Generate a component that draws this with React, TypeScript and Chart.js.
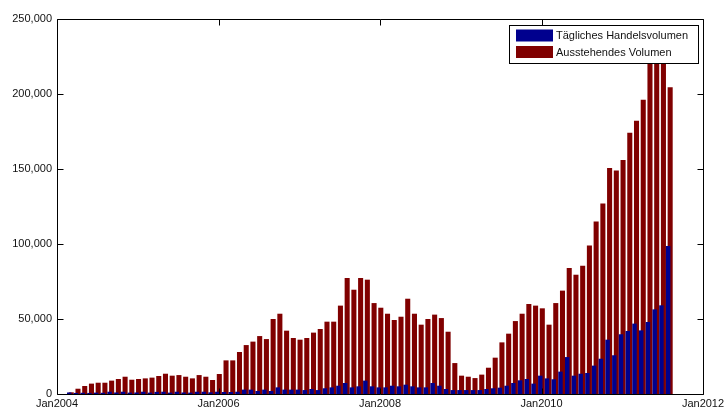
import React, { useEffect, useRef } from "react";
import { Chart, registerables } from "chart.js";

Chart.register(...registerables);

// Monthly (month-end) observations starting Feb 2004
const FIRST_YEAR = 2004;
const FIRST_MONTH = 2;

const seriesLabels = ["Tägliches Handelsvolumen", "Ausstehendes Volumen"];
const seriesColors = ["#00008E", "#800000"];

const xTickValues = [0, 24, 48, 72, 96]; // months since Jan 2004
const xTickLabels = ["Jan2004", "Jan2006", "Jan2008", "Jan2010", "Jan2012"];
const yTickValues = [0, 50000, 100000, 150000, 200000, 250000];

const dailyVolume = [
  // 2004 (Feb-Dec)
  800, 500, 600, 500, 700, 600, 1300, 800, 1300, 700, 800,
  // 2005
  1300, 700, 1200, 1300, 700, 1300, 800, 700, 1300, 1300, 900, 1300,
  // 2006
  1100, 1100, 1300, 2700, 2700, 1800, 2700, 1800, 4200, 2700, 2700, 2700,
  // 2007
  2400, 3100, 2400, 3600, 4200, 5300, 7100, 4200, 4900, 8700, 4900, 4200,
  // 2008
  4200, 5300, 4900, 6000, 4900, 4200, 4200, 7100, 5300, 3100, 2400, 2400,
  // 2009
  2400, 2400, 2400, 3100, 3600, 4000, 5300, 7100, 8900, 9800, 6700, 12000,
  // 2010
  10200, 9600, 14700, 24400, 12000, 13300, 13800, 18700, 23300, 36000, 25600, 39600,
  // 2011 (Jan-Jul)
  41800, 46700, 42200, 47800, 56200, 58900, 98400,
];

const outstandingVolume = [
  // 2004 (Feb-Dec)
  900, 3300, 5100, 6700, 7300, 7300, 8700, 9800, 11300, 9300, 9800,
  // 2005
  10200, 10700, 11800, 13300, 12000, 12400, 11300, 10200, 12400, 11300, 9100, 13100,
  // 2006
  22200, 22200, 27800, 32400, 34700, 38400, 36400, 49800, 53300, 42000, 37100, 36000,
  // 2007
  37100, 40700, 43100, 48000, 48000, 58700, 77100, 69300, 77100, 76000, 60400, 57300,
  // 2008
  53300, 49100, 51300, 63300, 53300, 46000, 49800, 52700, 50400, 41300, 20400, 12000,
  // 2009
  11300, 10400, 12700, 17300, 24000, 34200, 40000, 48400, 53300, 59800, 58700, 56900,
  // 2010
  46000, 60400, 68700, 83800, 79300, 85300, 98700, 114700, 126700, 150400, 148700, 155800,
  // 2011 (Jan-Jul)
  174000, 182000, 196000, 228000, 238000, 232000, 204200,
];

const months: string[] = dailyVolume.map((_, i) => {
  const m = FIRST_MONTH - 1 + i;
  const y = FIRST_YEAR + Math.floor(m / 12);
  return `${y}-${String((m % 12) + 1).padStart(2, "0")}`;
});

// month-end position in months since Jan 2004
const monthX = (label: string) => {
  const [y, mo] = label.split("-").map(Number);
  return (y - FIRST_YEAR) * 12 + mo - 0.03;
};

const FONT = { family: "'Liberation Sans', Arial, sans-serif", size: 11 };
const TEXT_COLOR = "#111";

const framePlugin = {
  id: "matlabFrame",
  afterDraw(chart: any) {
    const ctx = chart.ctx;
    const { left, right, top, bottom } = chart.chartArea;
    const xs = chart.scales.x;
    const ys = chart.scales.y;
    const tl = 6;
    ctx.save();
    ctx.strokeStyle = "#000";
    ctx.lineWidth = 1;
    ctx.beginPath();
    const L = Math.round(left) + 0.5;
    const R = Math.round(right) + 0.5;
    const T = Math.round(top) + 0.5;
    const B = Math.round(bottom) + 0.5;
    ctx.rect(L, T, R - L, B - T);
    xs.ticks.forEach((t: any) => {
      const px = Math.round(xs.getPixelForValue(t.value)) + 0.5;
      ctx.moveTo(px, B);
      ctx.lineTo(px, B - tl);
      ctx.moveTo(px, T);
      ctx.lineTo(px, T + tl);
    });
    ys.ticks.forEach((t: any) => {
      const py = Math.round(ys.getPixelForValue(t.value)) + 0.5;
      ctx.moveTo(L, py);
      ctx.lineTo(L + tl, py);
      ctx.moveTo(R, py);
      ctx.lineTo(R - tl, py);
    });
    ctx.stroke();

    // legend box (inside the axes, upper right)
    const bx = 509.5, by = 25.5, bw = 189, bh = 38;
    ctx.fillStyle = "#fff";
    ctx.fillRect(bx, by, bw, bh);
    ctx.strokeStyle = "#000";
    ctx.strokeRect(bx, by, bw, bh);
    ctx.font = `${FONT.size}px ${FONT.family}`;
    ctx.textBaseline = "middle";
    ctx.textAlign = "left";
    chart.data.datasets.forEach((ds: any, i: number) => {
      const sy = 29.5 + i * 16.5;
      ctx.fillStyle = ds.backgroundColor;
      ctx.fillRect(516, sy, 37, 12);
      ctx.fillStyle = TEXT_COLOR;
      ctx.fillText(ds.label, 556, sy + 6.5);
    });
    ctx.restore();
  },
};

export default function App() {
  const ref = useRef<HTMLCanvasElement | null>(null);

  useEffect(() => {
    if (!ref.current) return;
    const chart = new Chart(ref.current, {
      type: "bar",
      data: {
        datasets: [
          {
            label: seriesLabels[0],
            data: months.map((m, i) => ({ x: monthX(m), y: dailyVolume[i] })),
            xAxisID: "xb",
            backgroundColor: seriesColors[0],
            barThickness: 3.8,
            grouped: false,
            order: 0,
          },
          {
            label: seriesLabels[1],
            data: months.map((m, i) => ({ x: monthX(m), y: outstandingVolume[i] })),
            xAxisID: "xr",
            backgroundColor: seriesColors[1],
            barThickness: 4.4,
            grouped: false,
            order: 1,
          },
        ] as any,
      },
      plugins: [framePlugin],
      options: {
        responsive: false,
        animation: false,
        layout: { padding: { top: 19, right: 21, left: 0, bottom: 0 } },
        plugins: {
          legend: { display: false },
          tooltip: { enabled: false },
        },
        scales: {
          x: {
            type: "linear",
            position: "bottom",
            offset: false,
            min: 0,
            max: 96,
            grid: { display: false, drawTicks: false, offset: false },
            border: { display: false },
            afterBuildTicks: (s: any) => {
              s.ticks = xTickValues.map((v) => ({ value: v }));
            },
            afterFit: (s: any) => {
              s.height = 14;
              s.paddingLeft = 0;
              s.paddingRight = 0;
            },
            ticks: {
              autoSkip: false,
              maxRotation: 0,
              padding: 3,
              font: FONT,
              color: TEXT_COLOR,
              callback: (v: any) => xTickLabels[xTickValues.indexOf(Number(v))] ?? "",
            },
          },
          xr: {
            type: "linear",
            display: false,
            offset: false,
            min: -0.15,
            max: 95.85,
          },
          xb: {
            type: "linear",
            display: false,
            offset: false,
            min: 0.15,
            max: 96.15,
          },
          y: {
            type: "linear",
            position: "left",
            min: 0,
            max: 250000,
            grid: { display: false, drawTicks: false },
            border: { display: false },
            afterBuildTicks: (s: any) => {
              s.ticks = yTickValues.map((v) => ({ value: v }));
            },
            afterFit: (s: any) => {
              s.width = 57;
              s.paddingTop = 0;
              s.paddingBottom = 0;
            },
            ticks: {
              padding: 5,
              font: FONT,
              color: TEXT_COLOR,
              callback: (v: any) => Number(v).toLocaleString("en-US"),
            },
          },
        } as any,
      },
    });
    return () => chart.destroy();
  }, []);

  return (
    <div
      style={{
        position: "fixed",
        left: 0,
        top: 0,
        width: 724,
        height: 408,
        background: "#fff",
      }}
    >
      <canvas ref={ref} width={724} height={408} style={{ display: "block" }} />
    </div>
  );
}
